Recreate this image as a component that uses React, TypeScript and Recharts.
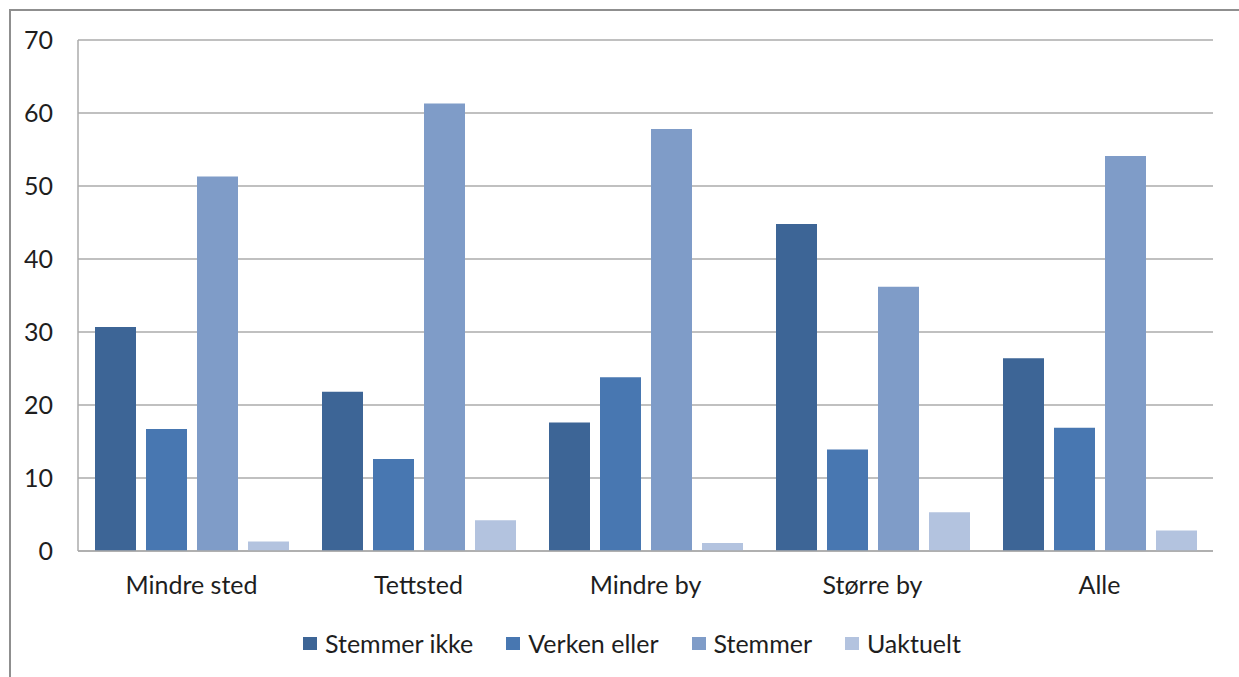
import React from "react";
import { BarChart, Bar, XAxis, YAxis, CartesianGrid } from "recharts";

const categories = ["Mindre sted", "Tettsted", "Mindre by", "Større by", "Alle"];
const stemmerIkke = [30.7, 21.8, 17.6, 44.8, 26.4];
const verkenEller = [16.7, 12.6, 23.8, 13.9, 16.9];
const stemmer = [51.3, 61.3, 57.8, 36.2, 54.1];
const uaktuelt = [1.3, 4.2, 1.1, 5.3, 2.8];
const yTicks = [0, 10, 20, 30, 40, 50, 60, 70];

const series = [
  { key: "stemmerIkke", name: "Stemmer ikke", color: "#3d6596" },
  { key: "verkenEller", name: "Verken eller", color: "#4877b1" },
  { key: "stemmer", name: "Stemmer", color: "#7f9cc8" },
  { key: "uaktuelt", name: "Uaktuelt", color: "#b3c3df" },
];

const data = categories.map((c, i) => ({
  category: c,
  stemmerIkke: stemmerIkke[i],
  verkenEller: verkenEller[i],
  stemmer: stemmer[i],
  uaktuelt: uaktuelt[i],
}));

const FONT = "Lato, 'Liberation Sans', sans-serif";
const TEXT = "#1e1e1e";
const GRID = "#ababab";

export default function App() {
  return (
    <div style={{ position: "absolute", left: 0, top: 0, width: 1239, height: 677, background: "#fff", overflow: "hidden", fontFamily: FONT }}>
      <div style={{
        position: "absolute",
        left: 9,
        top: 9,
        width: 1300,
        height: 700,
        borderTop: "2px solid #8f8f8f",
        borderLeft: "2px solid #8f8f8f",
      }} />
      <div style={{ position: "absolute", left: 0, top: 0 }}>
        <BarChart
          width={1239}
          height={677}
          data={data}
          margin={{ top: 40, right: 26, left: 0, bottom: 0 }}
          barSize={41}
          barGap={10}
        >
          <CartesianGrid vertical={false} stroke={GRID} strokeWidth={1.5} />
          <YAxis
            width={78}
            domain={[0, 70]}
            ticks={yTicks}
            tickSize={0}
            tickMargin={25}
            axisLine={{ stroke: GRID, strokeWidth: 1.5 }}
            tickLine={false}
            tick={{ fill: TEXT, fontSize: 25, fontFamily: FONT }}
          />
          <XAxis
            dataKey="category"
            height={126}
            tickSize={0}
            tickMargin={25}
            axisLine={{ stroke: GRID, strokeWidth: 1.5 }}
            tickLine={false}
            tick={{ fill: TEXT, fontSize: 25, fontFamily: FONT }}
          />
          {series.map((s) => (
            <Bar key={s.key} dataKey={s.key} name={s.name} fill={s.color} isAnimationActive={false} />
          ))}
        </BarChart>
      </div>
      <div style={{ position: "absolute", left: 303, top: 629, display: "flex", alignItems: "center", gap: 33 }}>
        {series.map((s) => (
          <div key={s.key} style={{ display: "flex", alignItems: "center", gap: 8 }}>
            <span style={{ display: "inline-block", width: 14, height: 13, background: s.color }} />
            <span style={{ fontSize: 25, color: TEXT, lineHeight: "28px" }}>{s.name}</span>
          </div>
        ))}
      </div>
    </div>
  );
}
